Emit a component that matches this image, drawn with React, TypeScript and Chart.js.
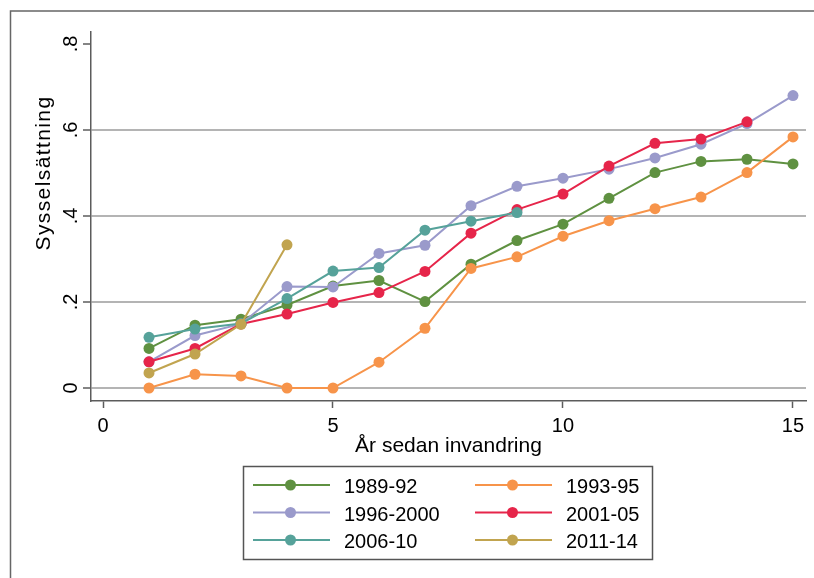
import React, { useEffect, useRef } from "react";
import { Chart, registerables } from "chart.js";

Chart.register(...registerables);

// ---- data ----
const years = [1, 2, 3, 4, 5, 6, 7, 8, 9, 10, 11, 12, 13, 14, 15];
const seriesNames = ["1989-92", "1993-95", "1996-2000", "2001-05", "2006-10", "2011-14"];
const s1989_92 = [0.092, 0.146, 0.160, 0.193, 0.237, 0.250, 0.201, 0.288, 0.343, 0.381, 0.441, 0.501, 0.527, 0.532, 0.521];
const s1993_95 = [0.0, 0.032, 0.028, 0.0, 0.0, 0.060, 0.139, 0.278, 0.305, 0.353, 0.389, 0.417, 0.444, 0.501, 0.584];
const s1996_2000 = [0.061, 0.122, 0.149, 0.236, 0.235, 0.313, 0.332, 0.424, 0.469, 0.488, 0.509, 0.535, 0.567, 0.615, 0.680];
const s2001_05 = [0.061, 0.092, 0.149, 0.172, 0.199, 0.222, 0.271, 0.360, 0.415, 0.451, 0.516, 0.569, 0.579, 0.619];
const s2006_10 = [0.118, 0.137, 0.150, 0.208, 0.272, 0.280, 0.367, 0.388, 0.408];
const s2011_14 = [0.035, 0.079, 0.148, 0.333];
const seriesValues = [s1989_92, s1993_95, s1996_2000, s2001_05, s2006_10, s2011_14];
const seriesColors = ["#5f9141", "#f7944a", "#9a9acb", "#e6254a", "#56a29a", "#c1a44f"];

const xTicks = [0, 5, 10, 15];
const xTickLabels = ["0", "5", "10", "15"];
const yTicks = [0, 0.2, 0.4, 0.6, 0.8];
const yTickLabels = ["0", ".2", ".4", ".6", ".8"];
const xTitle = "År sedan invandring";
const yTitle = "Sysselsättning";

const FONT = '"Liberation Sans", Arial, Helvetica, sans-serif';

const decorPlugin = {
  id: "decor",
  afterDraw(chart: any) {
    const ctx = chart.ctx as CanvasRenderingContext2D;
    const xs = chart.scales.x;
    const ys = chart.scales.y;
    const area = chart.chartArea;
    ctx.save();
    ctx.fillStyle = "#000";

    // x tick labels
    ctx.font = "20px " + FONT;
    ctx.textAlign = "center";
    ctx.textBaseline = "alphabetic";
    xTicks.forEach((v, i) => {
      ctx.fillText(xTickLabels[i], xs.getPixelForValue(v), area.bottom + 30.5);
    });

    // y tick labels (rotated)
    yTicks.forEach((v, i) => {
      ctx.save();
      ctx.translate(area.left - 14.5, ys.getPixelForValue(v));
      ctx.rotate(-Math.PI / 2);
      ctx.textAlign = "center";
      ctx.fillText(yTickLabels[i], 0, 0);
      ctx.restore();
    });

    // axis titles
    ctx.font = "21px " + FONT;
    ctx.textAlign = "center";
    ctx.fillText(xTitle, (area.left + area.right) / 2, area.bottom + 51);
    ctx.save();
    ctx.translate(area.left - 41.5, 173.7);
    ctx.rotate(-Math.PI / 2);
    (ctx as any).letterSpacing = "1.4px";
    ctx.fillText(yTitle, 0.7, 0);
    (ctx as any).letterSpacing = "0px";
    ctx.restore();

    // legend
    const bx = 243, by = 466, bw = 409, bh = 93;
    ctx.strokeStyle = "#555";
    ctx.lineWidth = 1.5;
    ctx.strokeRect(bx + 0.5, by + 0.5, bw, bh);
    const colX = [253, 475];
    const rowY = [485, 512.5, 540];
    ctx.font = "20px " + FONT;
    ctx.textAlign = "left";
    chart.data.datasets.forEach((ds: any, i: number) => {
      const c = i % 2;
      const r = Math.floor(i / 2);
      const x0 = colX[c];
      const y0 = rowY[r];
      ctx.strokeStyle = ds.borderColor;
      ctx.lineWidth = 2;
      ctx.beginPath();
      ctx.moveTo(x0, y0);
      ctx.lineTo(x0 + 77, y0);
      ctx.stroke();
      ctx.fillStyle = ds.borderColor;
      ctx.beginPath();
      ctx.arc(x0 + 37.5, y0, 5.5, 0, Math.PI * 2);
      ctx.fill();
      ctx.fillStyle = "#000";
      ctx.fillText(ds.label, x0 + 91, y0 + 8.3);
    });

    // outer frame (top and left)
    ctx.strokeStyle = "#666";
    ctx.lineWidth = 1.5;
    ctx.beginPath();
    ctx.moveTo(10.5, 578);
    ctx.lineTo(10.5, 11);
    ctx.lineTo(814, 11);
    ctx.stroke();
    ctx.restore();
  },
};

export default function App() {
  const ref = useRef<HTMLCanvasElement | null>(null);
  useEffect(() => {
    if (!ref.current) return;
    const datasets = seriesValues.map((vals, i) => ({
      label: seriesNames[i],
      data: vals.map((v, j) => ({ x: years[j], y: v })),
      borderColor: seriesColors[i],
      backgroundColor: seriesColors[i],
      pointBackgroundColor: seriesColors[i],
      pointBorderWidth: 0,
      pointRadius: 5.5,
      borderWidth: 2,
      tension: 0,
      order: seriesValues.length - 1 - i,
    }));
    const chart = new Chart(ref.current, {
      type: "line",
      data: { datasets },
      options: {
        animation: false,
        responsive: false,
        devicePixelRatio: 1,
        layout: { padding: { left: 0, top: 32, right: 8, bottom: 0 } },
        plugins: { legend: { display: false }, tooltip: { enabled: false }, title: { display: false } },
        scales: {
          x: {
            type: "linear",
            min: -0.261,
            max: 15.283,
            afterBuildTicks: (s: any) => {
              s.ticks = xTicks.map((v) => ({ value: v }));
            },
            afterFit: (s: any) => {
              s.height = 177;
            },
            ticks: { display: false },
            grid: { drawOnChartArea: false, drawTicks: true, tickLength: 7, tickColor: "#5c5c5c", tickWidth: 1.5, color: "#5c5c5c" },
            border: { display: true, color: "#5c5c5c", width: 1.5 },
          },
          y: {
            type: "linear",
            min: -0.0302,
            max: 0.8279,
            afterBuildTicks: (s: any) => {
              s.ticks = yTicks.map((v) => ({ value: v }));
            },
            afterFit: (s: any) => {
              s.width = 91;
            },
            ticks: { display: false },
            grid: {
              drawOnChartArea: true,
              drawTicks: true,
              tickLength: 8,
              tickColor: "#5c5c5c",
              tickWidth: 1.5,
              lineWidth: 2,
              color: (c: any) => (c.tick && c.tick.value > 0.7 ? "rgba(0,0,0,0)" : "#b4b4b4"),
            },
            border: { display: true, color: "#5c5c5c", width: 1.5 },
          },
        },
      },
      plugins: [decorPlugin],
    });
    return () => chart.destroy();
  }, []);
  return (
    <div style={{ position: "absolute", left: 0, top: 0, width: 814, height: 578, background: "#fff" }}>
      <canvas ref={ref} width={814} height={578} style={{ width: 814, height: 578, display: "block" }} />
    </div>
  );
}
